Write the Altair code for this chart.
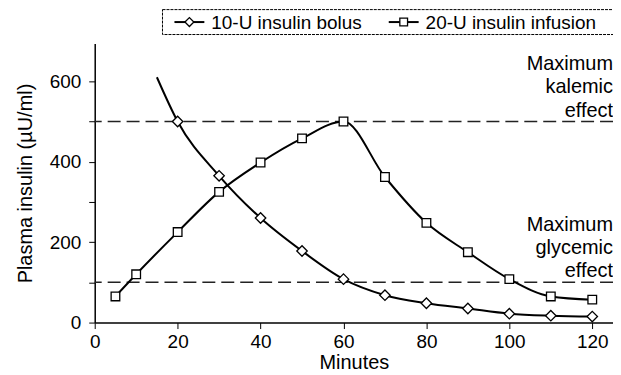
import altair as alt
import pandas as pd

# ---- data ----
bolus_minutes = [20, 30, 40, 50, 60, 70, 80, 90, 100, 110, 120]
bolus_values = [500, 365, 260, 178, 108, 68, 48, 35, 22, 17, 15]
bolus_curve_start_minute = [15]
bolus_curve_start_value = [610]

infusion_minutes = [5, 10, 20, 30, 40, 50, 60, 70, 80, 90, 100, 110, 120]
infusion_values = [65, 120, 225, 325, 398, 458, 500, 362, 248, 175, 108, 65, 57]

threshold_values = [500, 100]
threshold_labels = ["Maximum\nkalemic\neffect", "Maximum\nglycemic\neffect"]

legend_labels = ["10-U insulin bolus", "20-U insulin infusion"]

x_ticks = [0, 20, 40, 60, 80, 100, 120]
y_ticks = [0, 100, 200, 300, 400, 500, 600]

FONT = "Liberation Sans"
W, H = 520, 280

bolus_pts = pd.DataFrame({"min": bolus_minutes, "val": bolus_values})
bolus_line = pd.DataFrame({"min": bolus_curve_start_minute + bolus_minutes,
                           "val": bolus_curve_start_value + bolus_values})
inf_df = pd.DataFrame({"min": infusion_minutes, "val": infusion_values})
thr_df = pd.DataFrame({"val": threshold_values, "label": threshold_labels})

xs = alt.Scale(domain=[0, 125], nice=False)
ys = alt.Scale(domain=[0, 694], nice=False)

x_enc = alt.X("min:Q", scale=xs, axis=alt.Axis(values=x_ticks, title="Minutes"))
y_enc = alt.Y("val:Q", scale=ys, axis=alt.Axis(
    values=y_ticks, title="Plasma insulin (µU/ml)",
    labelExpr="datum.value % 200 == 0 ? datum.label : ''"))

rules = alt.Chart(thr_df).mark_rule(
    color="#222", strokeWidth=1.5, strokeDash=[13, 6]
).encode(y=alt.Y("val:Q", scale=ys))

ann = alt.Chart(thr_df).mark_text(
    align="right", baseline="alphabetic", lineBreak="\n", lineHeight=23.5,
    font=FONT, fontSize=20, dy=-52, color="black"
).encode(x=alt.value(W), y=alt.Y("val:Q", scale=ys), text="label:N")

line_b = alt.Chart(bolus_line).mark_line(
    color="black", strokeWidth=2, interpolate="monotone"
).encode(x=x_enc, y=y_enc)
line_i = alt.Chart(inf_df).mark_line(
    color="black", strokeWidth=2, interpolate="monotone"
).encode(x=x_enc, y=y_enc)

pts_b = alt.Chart(bolus_pts).mark_point(
    shape="diamond", size=110, filled=True, fill="white", stroke="black",
    strokeWidth=1.3, opacity=1
).encode(x=x_enc, y=y_enc)
pts_i = alt.Chart(inf_df).mark_point(
    shape="square", size=75, filled=True, fill="white", stroke="black",
    strokeWidth=1.3, opacity=1
).encode(x=x_enc, y=y_enc)

# ---- legend box ----
one = pd.DataFrame({"a": [0]})
leg_box = alt.Chart(one).mark_rect(
    fill="white", stroke="black", strokeWidth=1, strokeDash=[3, 1]
).encode(x=alt.value(68), x2=alt.value(522), y=alt.value(-34), y2=alt.value(-9))
leg_l1 = alt.Chart(one).mark_rule(color="black", strokeWidth=2).encode(
    x=alt.value(80), x2=alt.value(110), y=alt.value(-21.5))
leg_p1 = alt.Chart(one).mark_point(
    shape="diamond", size=80, filled=True, fill="white", stroke="black",
    strokeWidth=1.3, opacity=1).encode(x=alt.value(95), y=alt.value(-21.5))
leg_t1 = alt.Chart(pd.DataFrame({"t": [legend_labels[0]]})).mark_text(
    align="left", baseline="middle", font=FONT, fontSize=19, color="black"
).encode(x=alt.value(117), y=alt.value(-21), text="t:N")
leg_l2 = alt.Chart(one).mark_rule(color="black", strokeWidth=2).encode(
    x=alt.value(295), x2=alt.value(325), y=alt.value(-21.5))
leg_p2 = alt.Chart(one).mark_point(
    shape="square", size=60, filled=True, fill="white", stroke="black",
    strokeWidth=1.3, opacity=1).encode(x=alt.value(310), y=alt.value(-21.5))
leg_t2 = alt.Chart(pd.DataFrame({"t": [legend_labels[1]]})).mark_text(
    align="left", baseline="middle", font=FONT, fontSize=19, color="black"
).encode(x=alt.value(332), y=alt.value(-21), text="t:N")

chart = alt.layer(
    rules, ann, line_b, line_i, pts_b, pts_i,
    leg_box, leg_l1, leg_p1, leg_t1, leg_l2, leg_p2, leg_t2
).properties(
    width=W, height=H,
    autosize=alt.AutoSizeParams(type="none"),
    padding={"left": 87, "top": 35, "right": 0, "bottom": 52},
).configure_view(stroke=None).configure_axis(
    grid=False, labelFont=FONT, titleFont=FONT, labelFontSize=19,
    titleFontSize=20, titleFontWeight="normal", labelColor="black",
    titleColor="black", domainColor="black", tickColor="black",
    domainWidth=1.5, tickWidth=1, tickSize=6, labelPadding=4,
).configure_axisX(titlePadding=1, labelFlush=False).configure_axisY(
    titlePadding=14, labelPadding=8)

chart.save("out.html", embed_options={"renderer": "svg", "actions": False})
